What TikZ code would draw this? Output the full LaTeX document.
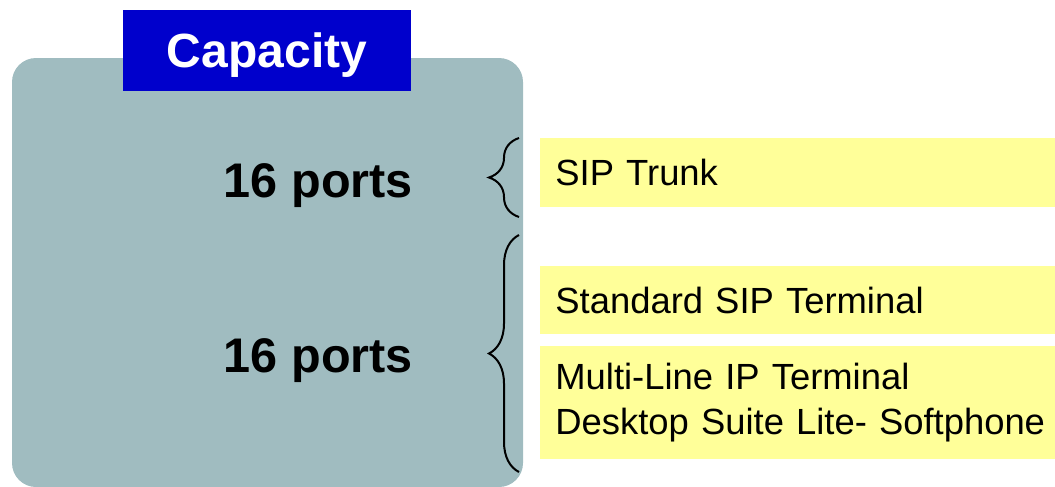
\documentclass[tikz,border=0pt]{standalone}
\usepackage{fontspec}
\setmainfont{Liberation Sans}
\usetikzlibrary{positioning, decorations.pathreplacing}
\definecolor{panelgrey}{RGB}{160,188,192}
\definecolor{titleblue}{RGB}{0,0,204}
\definecolor{noteyellow}{RGB}{255,255,153}

\begin{document}
\begin{tikzpicture}[x=0.5pt, y=-0.5pt,
    note/.style={fill=noteyellow, anchor=west, minimum height=#1, text width=260pt, inner xsep=7.5pt, align=left, font=\fontsize{18.2}{22.5}\selectfont},
    ports/.style={anchor=base east, font=\bfseries\fontsize{24.3}{28}\selectfont},
    capbrace/.style={decorate, decoration={brace, amplitude=15pt}, line width=1pt}]
    \useasboundingbox (0,0) rectangle (1055,487);
    \node (Panel) [fill=panelgrey, rounded corners=12pt, minimum width=255.5pt, minimum height=214.5pt] at (267.5,272.5) {};
    \node (Title) [fill=titleblue, text=white, text depth=0pt, minimum width=144pt, minimum height=40.5pt, font=\bfseries\fontsize{24}{28}\selectfont] at (267,50.5) {Capacity};
    \node (PortsA) [ports] at (420,197) {16 ports};
    \node (PortsB) [ports] at (420,372) {16 ports};
    \node (Trunk) [note=34.5pt] at (540,172.5) {SIP Trunk};
    \node (Standard) [note=34pt] at (540,300) {Standard SIP Terminal};
    \node (MultiLine) [note=56.5pt] at (540,402.5) {Multi-Line IP Terminal\\Desktop Suite Lite- Softphone};
    % braces
    \coordinate (TrunkTop) at (519,138);
    \coordinate (TrunkBot) at (519,217);
    \coordinate (TermTop) at (519,235);
    \coordinate (TermBot) at (519,472);
    \draw [capbrace] (TrunkBot) -- (TrunkTop);
    \draw [capbrace] (TermBot) -- (TermTop);
\end{tikzpicture}
\end{document}
